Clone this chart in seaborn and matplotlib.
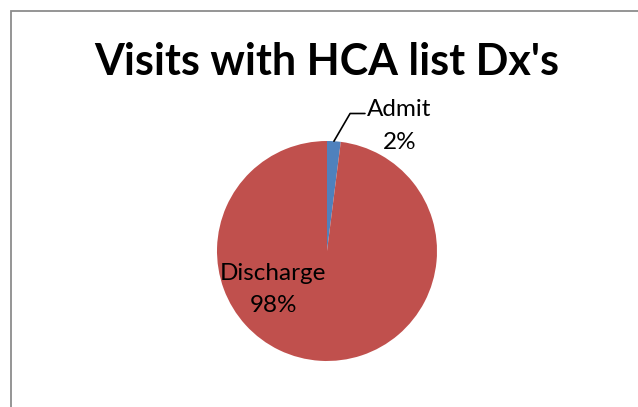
import matplotlib
matplotlib.use("Agg")
import matplotlib.pyplot as plt
import seaborn as sns
from matplotlib.patches import Rectangle

sns.set_theme(style="white")
plt.rcParams['font.family'] = ['Lato', 'DejaVu Sans']
plt.rcParams['text.color'] = 'black'

title = "Visits with HCA list Dx's"
categories = ["Admit", "Discharge"]
values = [2, 98]
colors = ["#4F81BD", "#C0504D"]

W, H = 638, 407
fig = plt.figure(figsize=(W / 100, H / 100), dpi=100)
fig.patch.set_facecolor("white")

# chart frame
fig.add_artist(Rectangle((11 / W, -0.1), 1.2, 1 - 11 / H + 0.1, transform=fig.transFigure,
                         fill=False, edgecolor="#8c8c8c", linewidth=1.3))

cx, cy, r = 327, 251, 110
half = 1.5 * r
ax = fig.add_axes([(cx - half) / W, (H - cy - half) / H, 2 * half / W, 2 * half / H])
wedges, _ = ax.pie(values, colors=colors, startangle=90, counterclock=False,
                   wedgeprops=dict(linewidth=0))
ax.set_xlim(-1.5, 1.5)
ax.set_ylim(-1.5, 1.5)
ax.axis("off")

# Admit label with leader line
ax.plot([0.063, 0.21, 0.345], [0.998, 1.25, 1.25], color="black", lw=1.2, clip_on=False)
ax.text(0.66, 1.14, f"{categories[0]}\n{values[0]}%", ha="center", va="center",
        fontsize=17.5, linespacing=1.7, color="black", clip_on=False)
# Discharge label inside
ax.text(-0.49, -0.35, f"{categories[1]}\n{values[1]}%", ha="center", va="center",
        fontsize=17.5, linespacing=1.7, color="black")

fig.text(cx / W, 1 - 62 / H, title, ha="center", va="center", fontsize=31,
         fontweight="bold", color="black")

fig.savefig("out.png", dpi=100)
